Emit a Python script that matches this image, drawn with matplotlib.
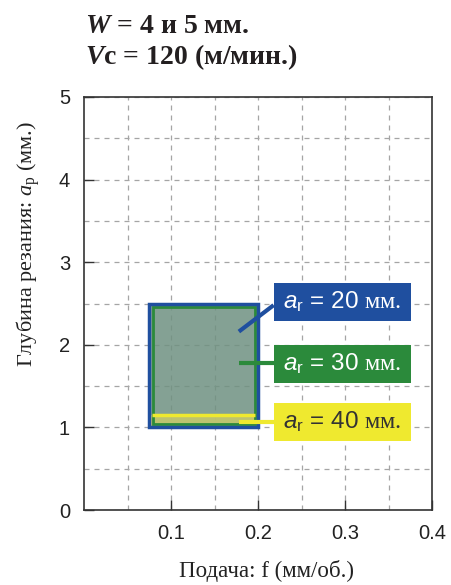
import numpy as np
import matplotlib.pyplot as plt
from matplotlib.patches import Rectangle

plt.rcParams['mathtext.fontset'] = 'custom'
plt.rcParams['mathtext.rm'] = 'Liberation Serif'
plt.rcParams['mathtext.it'] = 'Liberation Serif:italic'
plt.rcParams['mathtext.sf'] = 'Liberation Sans'
plt.rcParams['mathtext.bf'] = 'Liberation Sans:italic'
plt.rcParams['mathtext.bfit'] = 'Liberation Serif:italic:bold'

# recommended cutting range
feed_range = [0.075, 0.2]      # f, mm/rev
depth_range = [1.0, 2.5]       # ap, mm
depth_ar40 = 1.15              # upper limit for ar = 40 mm

# legend boxes
ar_values = ['20', '30', '40']
box_colors = ['#1f4f9f', '#2b8a3b', '#efe92f']
text_colors = ['white', 'white', '#333333']
box_y = [2.52, 1.77, 1.07]
leader_y = [2.16, 1.78, 1.06]

xticks = [0.1, 0.2, 0.3, 0.4]
yticks = [0, 1, 2, 3, 4, 5]

fig = plt.figure(figsize=(4.51, 5.85), dpi=100)
ax = fig.add_axes([84 / 451, 1 - 510 / 585, 348 / 451, 413 / 585])

ax.set_xlim(0, 0.4)
ax.set_ylim(0, 5)
ax.set_xticks(xticks)
ax.set_xticklabels(['0.1', '0.2', '0.3', '0.4'])
ax.set_yticks(yticks)
ax.set_xticks(np.arange(0.05, 0.4, 0.1), minor=True)
ax.set_yticks(np.arange(0.5, 5, 1.0), minor=True)
ax.grid(which='both', color='#a5a5a5', linestyle=(0, (4, 4)), linewidth=0.9)
ax.set_axisbelow(True)
ax.tick_params(which='major', direction='in', length=7, width=1, color='#333333',
               labelsize=14.5, pad=10, labelcolor='#222222')
ax.tick_params(which='minor', length=0)
for lab in ax.get_xticklabels() + ax.get_yticklabels():
    lab.set_family('Liberation Sans')
for s in ax.spines.values():
    s.set_color('#333333')
    s.set_linewidth(1.2)

ax.set_xlabel('Подача: f (мм/об.)', family='Liberation Serif', fontsize=16.5,
              color='#222222', va='center')
ax.set_ylabel('Глубина резания: $a_\\mathrm{p}$ (мм.)', family='Liberation Serif',
              fontsize=16, color='#222222', va='center')
ax.xaxis.set_label_coords(0.523, -61 / 413)
ax.yaxis.set_label_coords(-56 / 348, 0.643)

x0, x1 = feed_range
y0, y1 = depth_range
ax.add_patch(Rectangle((x0, y0), x1 - x0, y1 - y0, facecolor='#6f9181', alpha=0.85,
                       edgecolor='none', zorder=3))
ax.add_patch(Rectangle((x0 + 0.002, y0 + 0.02), x1 - x0 - 0.004, depth_ar40 - y0 - 0.02,
                       facecolor='#c8ca6a', alpha=0.85, edgecolor='none', zorder=3))
ax.add_patch(Rectangle((x0 + 0.004, y0 + 0.04), x1 - x0 - 0.008, y1 - y0 - 0.08,
                       facecolor='none', edgecolor=box_colors[1], linewidth=2, zorder=4))
ax.plot([x0 + 0.003, x1 - 0.003], [depth_ar40, depth_ar40], color=box_colors[2],
        linewidth=2.5, zorder=5, solid_capstyle='butt')
ax.add_patch(Rectangle((x0, y0), x1 - x0, y1 - y0, facecolor='none',
                       edgecolor=box_colors[0], linewidth=2.5, zorder=6))

bx0, bx1 = 0.218, 0.376
bh = 0.46
for val, c, tc, by, ly in zip(ar_values, box_colors, text_colors, box_y, leader_y):
    end_y = by - 0.04 if val == '20' else ly
    ax.plot([0.178, bx0], [ly, end_y], color=c, linewidth=3, zorder=7,
            solid_capstyle='butt')
    ax.add_patch(Rectangle((bx0, by - bh / 2), bx1 - bx0, bh, facecolor=c,
                           edgecolor='none', zorder=8))
    ax.text((bx0 + bx1) / 2, by, '$\\mathbf{a}_\\mathsf{r}$ = ' + val + ' $\\mathrm{мм.}$',
            family='Liberation Sans', fontsize=17.5, color=tc, ha='center', va='center',
            zorder=9)

fig.text(85 / 451, 1 - 33 / 585, '$\\mathbfit{W}$ = 4 и 5 мм.', family='Liberation Serif',
         fontweight='bold', fontsize=20, color='#231f20', ha='left', va='baseline')
fig.text(85 / 451, 1 - 64 / 585, '$\\mathbfit{V}$c = 120 (м/мин.)', family='Liberation Serif',
         fontweight='bold', fontsize=20, color='#231f20', ha='left', va='baseline')

fig.savefig('out.png', dpi=100)
